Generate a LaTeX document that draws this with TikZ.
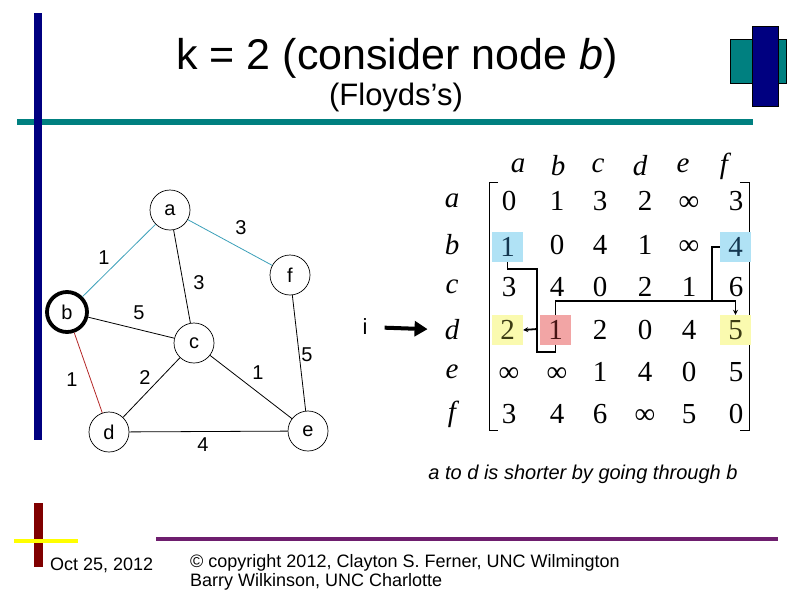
\documentclass[tikz,border=0pt]{standalone}
\usepackage{fontspec}
\setmainfont{Liberation Sans}
\newfontfamily\tms{Liberation Serif}
\usetikzlibrary{arrows.meta}
\definecolor{navy}{RGB}{0,0,128}
\definecolor{tealc}{RGB}{0,128,128}
\definecolor{purp}{RGB}{110,30,110}
\definecolor{dred}{RGB}{128,0,0}
\definecolor{yel}{RGB}{255,255,0}
\definecolor{edgeteal}{RGB}{60,160,185}
\definecolor{edgered}{RGB}{180,40,40}
\definecolor{hblue}{RGB}{176,226,245}
\definecolor{hpink}{RGB}{242,165,165}
\definecolor{hyel}{RGB}{250,250,175}
\tikzset{
  gnode/.style={circle,draw=black,line width=0.7pt,minimum size=40pt,inner sep=0pt,font=\fontsize{20}{22}\selectfont},
  glab/.style={font=\fontsize{20}{22}\selectfont,inner sep=0pt},
  gedge/.style={line width=0.8pt},
  ment/.style={font=\tms\fontsize{29}{31}\selectfont,inner sep=0pt},
  inf/.style={ment,yshift=-3pt},
  mlab/.style={font=\tms\itshape\fontsize{29}{31}\selectfont,inner sep=0pt},
  hbox/.style={ment,minimum width=31pt,minimum height=30pt},
  mline/.style={line width=1.8pt},
  mtip/.style={-{Stealth[length=5pt,width=5pt]}}
}
\begin{document}
\begin{tikzpicture}[x=1pt,y=-1pt]
\useasboundingbox (0,0) rectangle (794,595);
% decorations
\fill[tealc] (17,119) rectangle (753,125);
\fill[navy] (34,13) rectangle (42,440);
\filldraw[fill=tealc,draw=black,line width=0.6pt] (730,39) rectangle (786,83);
\filldraw[fill=navy,draw=black,line width=0.6pt] (752,26) rectangle (778,106);
\fill[purp] (156,537) rectangle (778,541);
\fill[dred] (34,503) rectangle (43,567);
\fill[yel] (14,539) rectangle (78,543);
% titles
\node[font=\fontsize{43}{46}\selectfont,inner sep=0pt] (title) at (397,58) {k = 2 (consider node \textit{b})};
\node[font=\fontsize{31}{34}\selectfont,inner sep=0pt] (sub) at (396,97) {(Floyds’s)};
% graph
\node[gnode] (a) at (170,210) {a};
\node[gnode,line width=3.8pt,minimum size=40pt] (b) at (67,312) {b};
\node[gnode] (c) at (194,343) {c};
\node[gnode] (d) at (109,432) {d};
\node[gnode] (e) at (308,431) {e};
\node[gnode] (f) at (290,275) {f};
\draw[gedge,edgeteal] (a) -- (b);
\draw[gedge,edgeteal] (a) -- (f);
\draw[gedge] (a) -- (c);
\draw[gedge] (b) -- (c);
\draw[gedge,edgered] (b) -- (d);
\draw[gedge] (c) -- (d);
\draw[gedge] (c) -- (e);
\draw[gedge] (d) -- (e);
\draw[gedge] (f) -- (e);
\node[glab] (l1) at (104,258) {1};
\node[glab] (l2) at (241,228) {3};
\node[glab] (l3) at (199,283) {3};
\node[glab] (l4) at (139,313) {5};
\node[glab] (l5) at (72,380) {1};
\node[glab] (l6) at (145,378) {2};
\node[glab] (l7) at (258,373) {1};
\node[glab] (l8) at (307,355) {5};
\node[glab] (l9) at (203,445) {4};
\node[font=\fontsize{22}{24}\selectfont,inner sep=0pt] (i) at (365,327) {i};
% matrix headers
\foreach \n/\x in {a/518,b/558,c/598,d/640,e/683,f/724}
  \node[mlab] (h\n) at (\x,166) {\n};
\foreach \n/\y in {a/201,b/245,c/287,d/330,e/372,f/414}
  \node[mlab] (r\n) at (452,\y) {\n};
% brackets
\draw[line width=1pt] (498,182) -- (489,182) -- (489,430) -- (498,430);
\draw[line width=1pt] (740,182) -- (749,182) -- (749,430) -- (740,430);
% highlight boxes
\node[hbox,fill=hblue,text={rgb,255:red,20;green,55;blue,80}] (bA) at (507.5,247) {1};
\node[hbox,fill=hblue,text={rgb,255:red,20;green,55;blue,80}] (bF) at (735.5,247) {4};
\node[hbox,fill=hyel,text={rgb,255:red,60;green,60;blue,20}] (dA) at (507.5,330) {2};
\node[hbox,fill=hpink,text={rgb,255:red,70;green,20;blue,20}] (dB) at (555.5,330) {1};
\node[hbox,fill=hyel,text={rgb,255:red,60;green,60;blue,20}] (dF) at (735.5,330) {5};
% matrix entries
\foreach \x/\v in {509/0,557/1,600/3,645/2,736/3}
  \node[ment] at (\x,201) {\v};
\node[inf] at (689,201) {∞};
\foreach \x/\v in {557/0,600/4,645/1}
  \node[ment] at (\x,245) {\v};
\node[inf] at (689,245) {∞};
\foreach \x/\v in {509/3,557/4,600/0,645/2,689/1,736/6}
  \node[ment] at (\x,287) {\v};
\foreach \x/\v in {600/2,645/0,689/4}
  \node[ment] at (\x,330) {\v};
\node[inf] at (509,372) {∞};
\node[inf] at (557,372) {∞};
\foreach \x/\v in {600/1,645/4,689/0,736/5}
  \node[ment] at (\x,372) {\v};
\foreach \x/\v in {509/3,557/4,600/6,689/5,736/0}
  \node[ment] at (\x,414) {\v};
\node[inf] at (645,414) {∞};
% connecting lines
\coordinate (j1) at (537,269);
\coordinate (j2) at (537,352);
\coordinate (j3) at (537,329);
\coordinate (j4) at (712,301);
\draw[mline] (bA.south) |- (j1) -- (j2) -| (dB.south);
\draw[mline,mtip] (j3) -- (dA.east);
\draw[mline,mtip] (dB.north) |- (j4) -| (dF.north);
\draw[mline] (bF.west) -| (j4);
% big arrow
\draw[line width=4pt,-{Triangle[length=13pt,width=15pt]},shorten <=17pt,shorten >=17pt] (i) -- (rd);
% texts
\node[font=\itshape\fontsize{20}{22}\selectfont,inner sep=0pt] (note) at (583,474) {a to d is shorter by going through b};
\node[anchor=west,font=\fontsize{18}{20}\selectfont,inner sep=0pt] (date) at (50,565) {Oct 25, 2012};
\node[anchor=north west,align=left,font=\fontsize{18}{19}\selectfont,inner sep=0pt] (copy) at (190,554) {© copyright 2012, Clayton S. Ferner, UNC Wilmington\\Barry Wilkinson, UNC Charlotte};
\end{tikzpicture}
\end{document}
